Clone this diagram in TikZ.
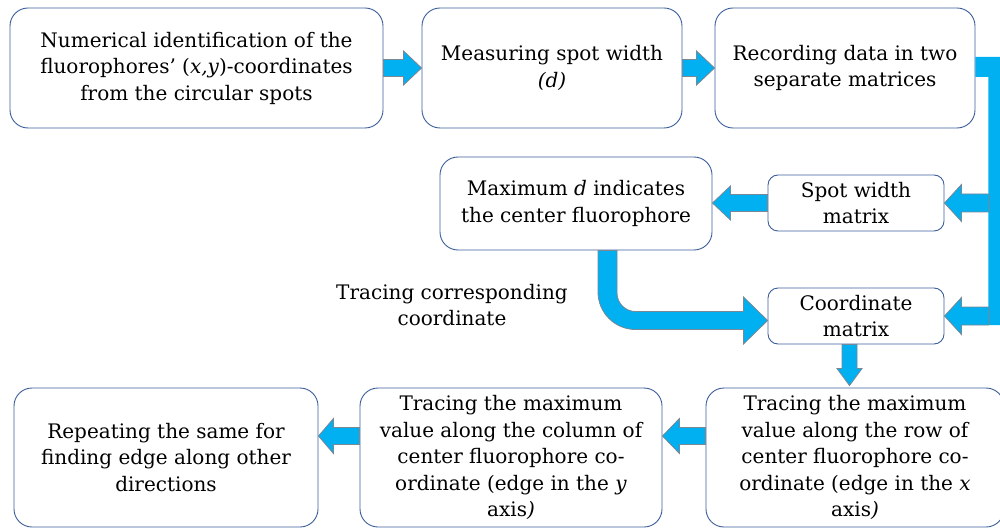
\documentclass[tikz,border=0pt]{standalone}
\usepackage{fontspec}
\setmainfont{DejaVu Serif}
\usetikzlibrary{calc}
\definecolor{arrfill}{HTML}{00B0F0}
\definecolor{arrline}{HTML}{7A8794}
\definecolor{boxline}{HTML}{3B5E9A}
\tikzset{
  box/.style={draw=boxline, line width=0.9pt, fill=white, rounded corners=18pt,
    align=center, inner sep=0pt, font=\fontsize{20}{26.5}\selectfont},
  sbox/.style={box, rounded corners=10pt},
  blk/.style={fill=arrfill, draw=arrline, line width=0.8pt, line join=miter},
  pipe/.style={fill=arrfill},
  lbl/.style={align=center, inner sep=0pt, font=\fontsize{20}{26.5}\selectfont}
}
% right-pointing block arrow: start, tip, shaft half, head half, head length
\newcommand{\rarr}[5]{\path[blk] let \p1=(#1), \p2=(#2) in
  (\x1,\y1+#3pt) -- (\x2-#5pt,\y1+#3pt) -- (\x2-#5pt,\y1+#4pt) -- (\x2,\y1)
  -- (\x2-#5pt,\y1-#4pt) -- (\x2-#5pt,\y1-#3pt) -- (\x1,\y1-#3pt) -- cycle;}
\newcommand{\larr}[5]{\path[blk] let \p1=(#1), \p2=(#2) in
  (\x1,\y1+#3pt) -- (\x2+#5pt,\y1+#3pt) -- (\x2+#5pt,\y1+#4pt) -- (\x2,\y1)
  -- (\x2+#5pt,\y1-#4pt) -- (\x2+#5pt,\y1-#3pt) -- (\x1,\y1-#3pt) -- cycle;}
\newcommand{\darr}[5]{\path[blk] let \p1=(#1), \p2=(#2) in
  (\x1+#3pt,\y1) -- (\x1+#3pt,\y2+#5pt) -- (\x1+#4pt,\y2+#5pt) -- (\x1,\y2)
  -- (\x1-#4pt,\y2+#5pt) -- (\x1-#3pt,\y2+#5pt) -- (\x1-#3pt,\y1) -- cycle;}
\begin{document}
\begin{tikzpicture}[x=1pt,y=-1pt]
\useasboundingbox (0,0) rectangle (1000,529);
\fill[white] (0,0) rectangle (1000,529);

\node[box, minimum width=373pt, minimum height=120pt] (b1) at (196.5,68)
  {Numerical identification of the\\fluorophores’ (\textit{x,y})-coordinates\\from the circular spots};
\node[box, minimum width=260pt, minimum height=120pt] (b2) at (552,68)
  {Measuring spot width\\\textit{(d)}};
\node[box, minimum width=260pt, minimum height=120pt] (b3) at (845,68)
  {Recording data in two\\separate matrices};
\node[box, minimum width=272pt, minimum height=93pt] (b4) at (576,203.5)
  {Maximum \textit{d} indicates\\the center fluorophore};
\node[sbox, minimum width=176pt, minimum height=56pt] (b5) at (856,203)
  {Spot width\\matrix};
\node[sbox, minimum width=176pt, minimum height=56pt] (b6) at (856,316)
  {Coordinate\\matrix};
\node[box, minimum width=304pt, minimum height=139pt] (b7) at (166,457.5)
  {Repeating the same for\\finding edge along other\\directions};
\node[box, minimum width=302pt, minimum height=139pt] (b8) at (511,457.5)
  {Tracing the maximum\\value along the column of\\center fluorophore co-\\ordinate (edge in the \textit{y}\\axis\textit{)}};
\node[box, minimum width=298pt, minimum height=139pt] (b9) at (855,457.5)
  {Tracing the maximum\\value along the row of\\center fluorophore co-\\ordinate (edge in the \textit{x}\\axis\textit{)}};
\node[lbl] (lab) at (452,305) {Tracing corresponding\\coordinate};

% top row arrows
\rarr{b1.east}{b2.west}{8.5}{17}{18}
\rarr{b2.east}{b3.west}{8.5}{17}{18}

% pipe from recording box down the right side
\path[pipe] let \p1=(b3.east), \p2=(b6.east) in
  (\x1,\y1+11pt) -- (\x1+35pt,\y1+11pt) -- (\x1+35pt,\y2-9pt)
  -- (\x1+13pt,\y2-9pt) -- (\x1+13pt,\y1-9pt) -- (\x1,\y1-9pt) -- cycle;
\coordinate (p5) at ($(b5.east)+(44,0)$);
\coordinate (p6) at ($(b6.east)+(44,0)$);
\larr{p5}{b5.east}{9}{18.5}{17}
\larr{p6}{b6.east}{9}{18.5}{17}

% spot width -> maximum d
\larr{b5.west}{b4.east}{8.5}{17}{18}

% curved arrow maximum d -> coordinate matrix
\path[blk] let \p1=($(b4.south)+(31.5,0)$), \p2=($(b6.west)+(0,4.5)$) in
  (\x1-9.5pt,\y1) -- (\x1-9.5pt,\y2+28.5pt)
  arc[start angle=180,end angle=270,radius=37.5pt]
  -- (\x2-24pt,\y2-9pt) -- (\x2-24pt,\y2-23.5pt) -- (\x2,\y2)
  -- (\x2-24pt,\y2+23.5pt) -- (\x2-24pt,\y2+9pt) -- (\x1+28pt,\y2+9pt)
  arc[start angle=270,end angle=180,radius=18.5pt]
  -- (\x1+9.5pt,\y1) -- cycle;

% coordinate matrix -> row tracing
\coordinate (c6) at ($(b6.south)+(-6.5,0)$);
\coordinate (c9) at ($(b9.north)+(-5.5,-2)$);
\darr{c6}{c9}{7.5}{12.5}{17}

% bottom row arrows
\coordinate (c9w) at ($(b9.west)+(0,-21.5)$);
\coordinate (c8e) at ($(b8.east)+(0,-21.5)$);
\coordinate (c8w) at ($(b8.west)+(0,-21.5)$);
\coordinate (c7e) at ($(b7.east)+(0,-21.5)$);
\larr{c9w}{c8e}{8.5}{17.5}{17}
\larr{c8w}{c7e}{8.5}{17.5}{15}
\end{tikzpicture}
\end{document}
